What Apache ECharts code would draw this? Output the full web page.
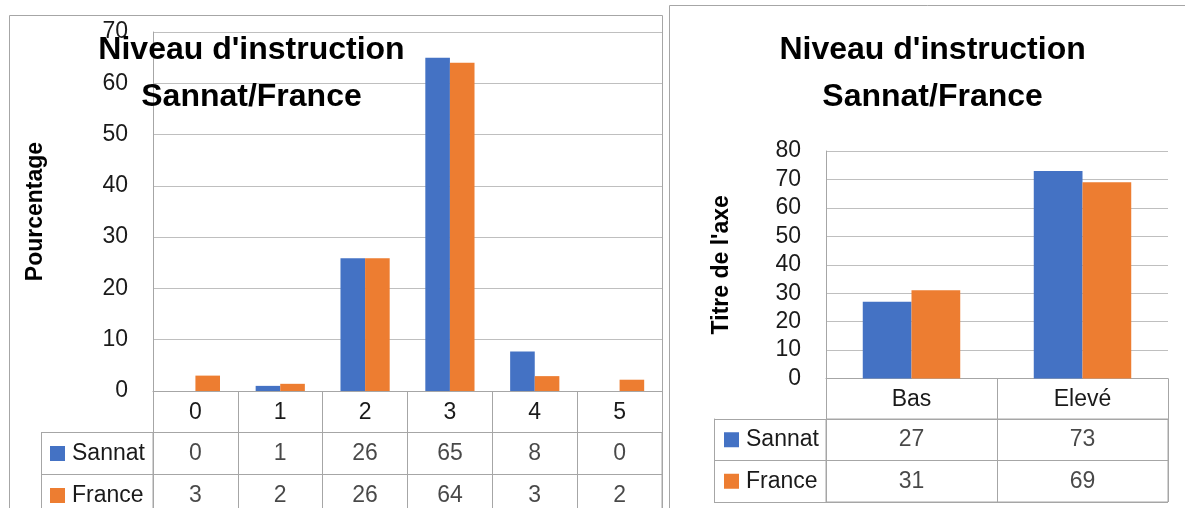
<!DOCTYPE html>
<html>
<head>
<meta charset="utf-8">
<script src="https://cdn.jsdelivr.net/npm/echarts@6/dist/echarts.min.js"></script>
<style>
html,body{margin:0;padding:0;background:#fff;}
#c{width:1185px;height:508px;}
</style>
</head>
<body>
<div id="c"></div>
<script>
// ---- data ----
const titleText = "Niveau d'instruction\nSannat/France";
const seriesNames = ['Sannat', 'France'];
// left chart
const catsL = ['0', '1', '2', '3', '4', '5'];
const sannatL = [0, 1.0, 25.9, 65.0, 7.7, 0];
const franceL = [3.0, 1.4, 25.9, 64.0, 2.9, 2.2];
const tableSannatL = ['0', '1', '26', '65', '8', '0'];
const tableFranceL = ['3', '2', '26', '64', '3', '2'];
const yMaxL = 70, yStepL = 10;
const yNameL = 'Pourcentage';
// right chart
const catsR = ['Bas', 'Elevé'];
const sannatR = [27, 73];
const franceR = [31, 69];
const tableSannatR = ['27', '73'];
const tableFranceR = ['31', '69'];
const yMaxR = 80, yStepR = 10;
const yNameR = "Titre de l'axe";

// ---- style ----
const FONT = 'Liberation Sans';
const BLUE = '#4472C4', ORANGE = '#ED7D31';
const GRID = '#bfbfbf', LINE = '#a6a6a6', TXT = '#1a1a1a';
const colors = [BLUE, ORANGE];

function tableCells(rows) {
  const out = [];
  rows.forEach((r, ri) => r.forEach((v, ci) => out.push([ci, ri, v])));
  return out;
}

function plotX(gi, cats, tickLen, labelMargin) {
  return {
    type: 'category', gridIndex: gi, data: cats,
    axisLine: {show: true, lineStyle: {color: LINE, width: 1}},
    axisTick: {show: true, length: tickLen, alignWithLabel: false, interval: 0, lineStyle: {color: LINE}},
    axisLabel: {show: true, interval: 0, margin: labelMargin, verticalAlign: 'middle',
      fontFamily: FONT, fontSize: 23, color: TXT},
    splitLine: {show: false}
  };
}
function plotY(gi, max, step, name, nameGap) {
  return {
    type: 'value', gridIndex: gi, min: 0, max: max, interval: step,
    name: name, nameLocation: 'middle', nameGap: nameGap,
    nameTextStyle: {fontFamily: FONT, fontSize: 23, fontWeight: 'bold', color: '#000'},
    axisLine: {show: true, lineStyle: {color: LINE}},
    axisTick: {show: false},
    axisLabel: {margin: 25, fontFamily: FONT, fontSize: 23, color: TXT},
    splitLine: {show: true, lineStyle: {color: GRID, width: 1}}
  };
}
function tableX(gi, cats) {
  return {
    type: 'category', gridIndex: gi, data: cats,
    axisLine: {show: false}, axisTick: {show: false}, axisLabel: {show: false},
    splitLine: {show: true, interval: 0, lineStyle: {color: LINE}}
  };
}
function tableY(gi, legendWidth, labelMargin) {
  return {
    type: 'category', gridIndex: gi, data: seriesNames, inverse: true,
    axisLine: {show: true, lineStyle: {color: LINE}},
    axisTick: {show: true, length: legendWidth, interval: 0, lineStyle: {color: LINE}},
    axisLabel: {
      show: true, margin: labelMargin, align: 'left', interval: 0,
      formatter: (v, i) => '{s' + i + '|}{t|' + v + '}',
      rich: {
        s0: {width: 15, height: 15, backgroundColor: BLUE},
        s1: {width: 15, height: 15, backgroundColor: ORANGE},
        t: {fontFamily: FONT, fontSize: 23, color: TXT, padding: [0, 0, 0, 7]}
      }
    },
    splitLine: {show: true, interval: 0, lineStyle: {color: LINE}}
  };
}
function borderY(gi, offset) {
  return {
    type: 'category', gridIndex: gi, data: seriesNames, inverse: true,
    position: 'left', offset: offset,
    axisLine: {show: true, lineStyle: {color: LINE}},
    axisTick: {show: false}, axisLabel: {show: false}, splitLine: {show: false}
  };
}
function bars(xi, yi, data, idx, gap) {
  return {
    type: 'bar', name: seriesNames[idx], xAxisIndex: xi, yAxisIndex: yi, data: data,
    barGap: '0%', barCategoryGap: gap, itemStyle: {color: colors[idx]}, silent: true
  };
}
function cellLabels(xi, yi, rows) {
  return {
    type: 'scatter', xAxisIndex: xi, yAxisIndex: yi, data: tableCells(rows),
    symbol: 'rect', symbolSize: 1, itemStyle: {color: 'rgba(0,0,0,0)'}, silent: true,
    encode: {x: 0, y: 1},
    label: {show: true, position: 'inside', formatter: p => p.value[2],
      fontFamily: FONT, fontSize: 23, color: TXT}
  };
}

const chart = echarts.init(document.getElementById('c'), null, {renderer: 'canvas'});
chart.setOption({
  animation: false,
  backgroundColor: '#fff',
  grid: [
    {left: 153, top: 32, width: 509, height: 359, outerBoundsMode: 'none'},
    {left: 153, top: 432.5, width: 509, height: 84, show: true, borderColor: LINE, borderWidth: 1, backgroundColor: 'transparent', outerBoundsMode: 'none'},
    {left: 826, top: 151, width: 342, height: 227.5, outerBoundsMode: 'none'},
    {left: 826, top: 419, width: 342, height: 83, show: true, borderColor: LINE, borderWidth: 1, backgroundColor: 'transparent', outerBoundsMode: 'none'}
  ],
  xAxis: [
    plotX(0, catsL, 41, 22),
    tableX(1, catsL),
    plotX(2, catsR, 40.5, 21),
    tableX(3, catsR)
  ],
  yAxis: [
    plotY(0, yMaxL, yStepL, yNameL, 106),
    tableY(1, 112, 103),
    borderY(1, 112),
    plotY(2, yMaxR, yStepR, yNameR, 93),
    tableY(3, 112, 102),
    borderY(3, 112)
  ],
  series: [
    bars(0, 0, sannatL, 0, '42%'),
    bars(0, 0, franceL, 1, '42%'),
    cellLabels(1, 1, [tableSannatL, tableFranceL]),
    bars(2, 3, sannatR, 0, '43%'),
    bars(2, 3, franceR, 1, '43%'),
    cellLabels(3, 4, [tableSannatR, tableFranceR])
  ],
  graphic: [
    {type: 'rect', z: 0, silent: true, shape: {x: 9.5, y: 15.5, width: 653, height: 600},
      style: {fill: 'none', stroke: LINE, lineWidth: 1}},
    {type: 'rect', z: 0, silent: true, shape: {x: 669.5, y: 5.5, width: 600, height: 600},
      style: {fill: 'none', stroke: LINE, lineWidth: 1}},
    {type: 'text', z: 100, silent: true, x: 251.5, y: 27,
      style: {text: titleText, fontFamily: FONT, fontSize: 32, fontWeight: 'bold', fill: '#000',
        align: 'center', verticalAlign: 'top', lineHeight: 47}},
    {type: 'text', z: 100, silent: true, x: 932.6, y: 27,
      style: {text: titleText, fontFamily: FONT, fontSize: 32, fontWeight: 'bold', fill: '#000',
        align: 'center', verticalAlign: 'top', lineHeight: 47}}
  ]
});
</script>
</body>
</html>
